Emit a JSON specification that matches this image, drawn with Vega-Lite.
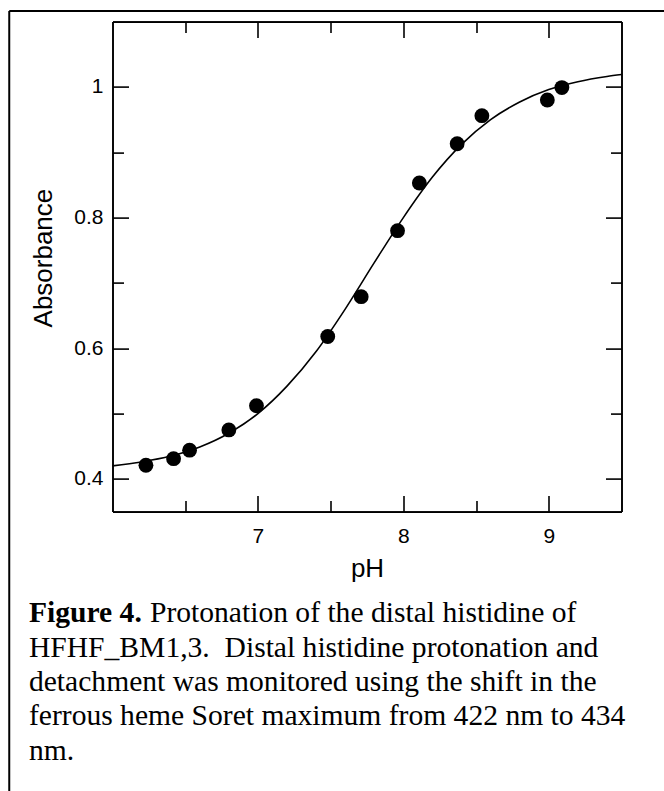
{
  "$schema": "https://vega.github.io/schema/vega-lite/v6.json",
  "autosize": {"type": "none"},
  "width": 509,
  "height": 490,
  "padding": {"left": 112.5, "top": 21.6, "right": 42, "bottom": 280},
  "background": "white",
  "datasets": {
    "points": [
      {"pH": 6.23, "A": 0.421}, {"pH": 6.42, "A": 0.431}, {"pH": 6.53, "A": 0.444},
      {"pH": 6.80, "A": 0.475}, {"pH": 6.99, "A": 0.512}, {"pH": 7.48, "A": 0.618},
      {"pH": 7.71, "A": 0.679}, {"pH": 7.96, "A": 0.780}, {"pH": 8.11, "A": 0.853},
      {"pH": 8.37, "A": 0.913}, {"pH": 8.54, "A": 0.956}, {"pH": 8.99, "A": 0.980},
      {"pH": 9.09, "A": 0.999}
    ],
    "curve": [
      {"pH": 6.0, "A": 0.420}, {"pH": 6.2, "A": 0.426}, {"pH": 6.4, "A": 0.435},
      {"pH": 6.6, "A": 0.449}, {"pH": 6.8, "A": 0.470}, {"pH": 7.0, "A": 0.500},
      {"pH": 7.2, "A": 0.542}, {"pH": 7.4, "A": 0.595}, {"pH": 7.6, "A": 0.660},
      {"pH": 7.8, "A": 0.731}, {"pH": 8.0, "A": 0.800}, {"pH": 8.2, "A": 0.862},
      {"pH": 8.4, "A": 0.912}, {"pH": 8.6, "A": 0.950}, {"pH": 8.8, "A": 0.977},
      {"pH": 9.0, "A": 0.996}, {"pH": 9.2, "A": 1.008}, {"pH": 9.4, "A": 1.016},
      {"pH": 9.5, "A": 1.019}
    ]
  },
  "layer": [
    {
      "data": {"name": "curve"},
      "mark": {"type": "line", "color": "black", "strokeWidth": 1.6, "interpolate": "monotone"},
      "encoding": {
        "x": {
          "field": "pH", "type": "quantitative",
          "scale": {"domain": [6, 9.5], "nice": false, "zero": false},
          "axis": {
            "orient": "bottom",
            "values": [7, 8, 9],
            "tickSize": -16,
            "format": "d",
            "labelPadding": 30,
            "labelFlush": false,
            "labelOverlap": false,
            "title": "pH",
            "titleY": 65,
            "titleBaseline": "alphabetic"
          }
        },
        "y": {
          "field": "A", "type": "quantitative",
          "scale": {"domain": [0.35, 1.1], "nice": false, "zero": false},
          "axis": {
            "orient": "left",
            "values": [0.4, 0.6, 0.8, 1.0],
            "tickSize": -16,
            "format": ".1~f",
            "labelPadding": 25.5,
            "labelFlush": false,
            "labelOverlap": false,
            "title": "Absorbance",
            "titleX": -61,
            "titleY": 236,
            "titleAngle": -90,
            "titleAlign": "center",
            "titleBaseline": "alphabetic"
          }
        }
      }
    },
    {
      "data": {"name": "points"},
      "mark": {"type": "circle", "color": "black", "opacity": 1, "size": 220},
      "encoding": {
        "x": {
          "field": "pH", "type": "quantitative",
          "scale": {"domain": [6, 9.5], "nice": false, "zero": false},
          "axis": {"orient": "top", "values": [7, 8, 9], "tickSize": -16, "labels": false, "title": null}
        },
        "y": {
          "field": "A", "type": "quantitative",
          "scale": {"domain": [0.35, 1.1], "nice": false, "zero": false},
          "axis": {"orient": "right", "values": [0.4, 0.6, 0.8, 1.0], "tickSize": -16, "labels": false, "title": null}
        }
      }
    },
    {
      "data": {"values": [{}]},
      "mark": {"type": "rule", "color": "black", "strokeWidth": 2},
      "encoding": {
        "x": {"datum": 5.29, "type": "quantitative",
              "axis": {"orient": "bottom", "values": [6.5, 7.5, 8.5], "tickSize": -11, "labels": false, "title": null}},
        "y": {"datum": 1.1162, "type": "quantitative",
              "axis": {"orient": "left", "values": [0.5, 0.7, 0.9], "tickSize": -11, "labels": false, "title": null}},
        "y2": {"datum": -0.2}
      }
    },
    {
      "data": {"values": [{}]},
      "mark": {"type": "rule", "color": "black", "strokeWidth": 2},
      "encoding": {
        "x": {"datum": 5.29, "type": "quantitative",
              "axis": {"orient": "top", "values": [6.5, 7.5, 8.5], "tickSize": -11, "labels": false, "title": null}},
        "x2": {"datum": 10.5},
        "y": {"datum": 1.1162, "type": "quantitative",
              "axis": {"orient": "right", "values": [0.5, 0.7, 0.9], "tickSize": -11, "labels": false, "title": null}}
      }
    },
    {
      "data": {"values": [{}]},
      "mark": {"type": "text", "text": "Figure 4.", "font": "Liberation Serif", "fontSize": 29.6, "fontWeight": "bold", "align": "left", "baseline": "alphabetic", "color": "black"},
      "encoding": {
        "x": {"datum": 5.4255, "type": "quantitative", "axis": null},
        "y": {"datum": 0.181, "type": "quantitative", "axis": null}
      }
    },
    {
      "data": {"values": [{}]},
      "mark": {"type": "text", "text": "Protonation of the distal histidine of", "font": "Liberation Serif", "fontSize": 29.6, "align": "left", "baseline": "alphabetic", "color": "black", "dx": 121},
      "encoding": {
        "x": {"datum": 5.4255, "type": "quantitative", "axis": null},
        "y": {"datum": 0.181, "type": "quantitative", "axis": null}
      }
    },
    {
      "data": {"values": [{}]},
      "mark": {
        "type": "text",
        "text": ["HFHF_BM1,3.\u00a0 Distal histidine protonation and", "detachment was monitored using the shift in the", "ferrous heme Soret maximum from 422 nm to 434", "nm."],
        "font": "Liberation Serif", "fontSize": 29.6, "lineHeight": 34.5,
        "align": "left", "baseline": "alphabetic", "color": "black"
      },
      "encoding": {
        "x": {"datum": 5.4255, "type": "quantitative", "axis": null},
        "y": {"datum": 0.1282, "type": "quantitative", "axis": null}
      }
    }
  ],
  "resolve": {"axis": {"x": "independent", "y": "independent"}},
  "config": {
    "view": {"stroke": null},
    "axis": {
      "grid": false,
      "domainColor": "black",
      "domainWidth": 1.6,
      "tickColor": "black",
      "tickWidth": 1.6,
      "labelFont": "Liberation Sans",
      "labelFontSize": 21,
      "labelColor": "black",
      "titleFont": "Liberation Sans",
      "titleFontSize": 26,
      "titleFontWeight": "normal",
      "titleColor": "black"
    }
  }
}
